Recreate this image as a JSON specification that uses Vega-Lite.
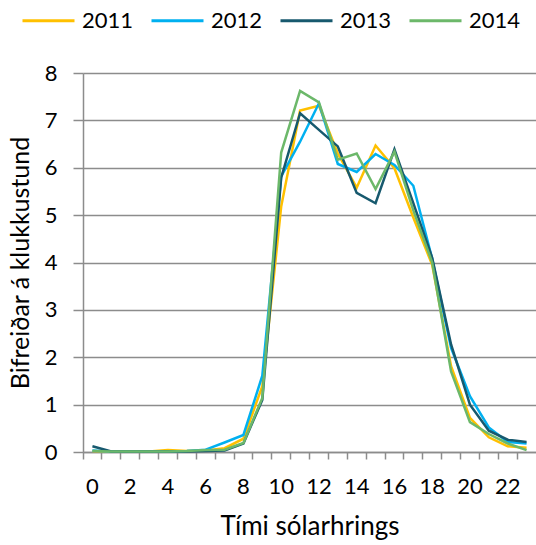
{
  "$schema": "https://vega.github.io/schema/vega-lite/v6.json",
  "width": 453,
  "height": 379,
  "autosize": {"type": "none"},
  "padding": {"left": 83, "top": 73, "right": 0, "bottom": 93},
  "datasets": {
    "d": [
      {"hour":0,"year":"2011","value":0.02},{"hour":1,"year":"2011","value":0.01},{"hour":2,"year":"2011","value":0.01},{"hour":3,"year":"2011","value":0.01},{"hour":4,"year":"2011","value":0.04},{"hour":5,"year":"2011","value":0.02},{"hour":6,"year":"2011","value":0.03},{"hour":7,"year":"2011","value":0.08},{"hour":8,"year":"2011","value":0.28},{"hour":9,"year":"2011","value":1.39},{"hour":10,"year":"2011","value":5.18},{"hour":11,"year":"2011","value":7.21},{"hour":12,"year":"2011","value":7.31},{"hour":13,"year":"2011","value":6.3},{"hour":14,"year":"2011","value":5.58},{"hour":15,"year":"2011","value":6.47},{"hour":16,"year":"2011","value":5.99},{"hour":17,"year":"2011","value":4.95},{"hour":18,"year":"2011","value":3.95},{"hour":19,"year":"2011","value":1.81},{"hour":20,"year":"2011","value":0.72},{"hour":21,"year":"2011","value":0.31},{"hour":22,"year":"2011","value":0.12},{"hour":23,"year":"2011","value":0.09},
      {"hour":0,"year":"2012","value":0.03},{"hour":1,"year":"2012","value":0.01},{"hour":2,"year":"2012","value":0.01},{"hour":3,"year":"2012","value":0.01},{"hour":4,"year":"2012","value":0.01},{"hour":5,"year":"2012","value":0.02},{"hour":6,"year":"2012","value":0.05},{"hour":7,"year":"2012","value":0.2},{"hour":8,"year":"2012","value":0.36},{"hour":9,"year":"2012","value":1.61},{"hour":10,"year":"2012","value":5.82},{"hour":11,"year":"2012","value":6.55},{"hour":12,"year":"2012","value":7.36},{"hour":13,"year":"2012","value":6.08},{"hour":14,"year":"2012","value":5.91},{"hour":15,"year":"2012","value":6.29},{"hour":16,"year":"2012","value":6.06},{"hour":17,"year":"2012","value":5.62},{"hour":18,"year":"2012","value":4.08},{"hour":19,"year":"2012","value":2.2},{"hour":20,"year":"2012","value":1.18},{"hour":21,"year":"2012","value":0.52},{"hour":22,"year":"2012","value":0.21},{"hour":23,"year":"2012","value":0.18},
      {"hour":0,"year":"2013","value":0.12},{"hour":1,"year":"2013","value":0.01},{"hour":2,"year":"2013","value":0.01},{"hour":3,"year":"2013","value":0.01},{"hour":4,"year":"2013","value":0.01},{"hour":5,"year":"2013","value":0.01},{"hour":6,"year":"2013","value":0.02},{"hour":7,"year":"2013","value":0.03},{"hour":8,"year":"2013","value":0.18},{"hour":9,"year":"2013","value":1.1},{"hour":10,"year":"2013","value":5.79},{"hour":11,"year":"2013","value":7.15},{"hour":12,"year":"2013","value":6.8},{"hour":13,"year":"2013","value":6.45},{"hour":14,"year":"2013","value":5.47},{"hour":15,"year":"2013","value":5.25},{"hour":16,"year":"2013","value":6.39},{"hour":17,"year":"2013","value":5.25},{"hour":18,"year":"2013","value":4.1},{"hour":19,"year":"2013","value":2.27},{"hour":20,"year":"2013","value":1.0},{"hour":21,"year":"2013","value":0.45},{"hour":22,"year":"2013","value":0.26},{"hour":23,"year":"2013","value":0.21},
      {"hour":0,"year":"2014","value":0.02},{"hour":1,"year":"2014","value":0.01},{"hour":2,"year":"2014","value":0.01},{"hour":3,"year":"2014","value":0.01},{"hour":4,"year":"2014","value":0.01},{"hour":5,"year":"2014","value":0.02},{"hour":6,"year":"2014","value":0.04},{"hour":7,"year":"2014","value":0.05},{"hour":8,"year":"2014","value":0.19},{"hour":9,"year":"2014","value":1.14},{"hour":10,"year":"2014","value":6.32},{"hour":11,"year":"2014","value":7.62},{"hour":12,"year":"2014","value":7.38},{"hour":13,"year":"2014","value":6.17},{"hour":14,"year":"2014","value":6.3},{"hour":15,"year":"2014","value":5.55},{"hour":16,"year":"2014","value":6.34},{"hour":17,"year":"2014","value":5.1},{"hour":18,"year":"2014","value":4.0},{"hour":19,"year":"2014","value":1.7},{"hour":20,"year":"2014","value":0.63},{"hour":21,"year":"2014","value":0.38},{"hour":22,"year":"2014","value":0.18},{"hour":23,"year":"2014","value":0.04}
    ]
  },
  "data": {"name": "d"},
  "mark": {"type": "line", "strokeWidth": 2.5},
  "encoding": {
    "x": {
      "field": "hour",
      "type": "ordinal",
      "sort": null,
      "scale": {"type": "band", "paddingInner": 0, "paddingOuter": 0},
      "axis": {
        "title": "Tími sólarhrings",
        "bandPosition": 0,
        "labelAngle": 0,
        "labelExpr": "datum.value % 2 == 0 ? datum.label : ''",
        "grid": false,
        "domainColor": "#8c8c8c",
        "domainWidth": 1.5,
        "tickColor": "#8c8c8c",
        "tickWidth": 1.5,
        "tickSize": 7,
        "labelPadding": 17,
        "labelFontSize": 22,
        "labelColor": "#000000",
        "titleFontSize": 26,
        "titleFontWeight": "normal",
        "titleColor": "#000000",
        "titlePadding": 16
      }
    },
    "y": {
      "field": "value",
      "type": "quantitative",
      "scale": {"domain": [0, 8], "nice": false},
      "axis": {
        "title": "Bifreiðar á klukkustund",
        "values": [0,1,2,3,4,5,6,7,8],
        "grid": true,
        "gridColor": "#8c8c8c",
        "gridWidth": 1.5,
        "domainColor": "#8c8c8c",
        "domainWidth": 1.5,
        "tickColor": "#8c8c8c",
        "tickWidth": 1.5,
        "tickSize": 10,
        "labelPadding": 16,
        "labelAlign": "right",
        "labelFontSize": 22,
        "labelColor": "#000000",
        "titleFontSize": 25,
        "titleFontWeight": "normal",
        "titleColor": "#000000",
        "titleX": -63,
        "titleBaseline": "middle"
      }
    },
    "color": {
      "field": "year",
      "type": "nominal",
      "scale": {"domain": ["2011","2012","2013","2014"], "range": ["#FFC000","#00B0F0","#17596E","#6CB86A"]},
      "legend": {
        "title": null,
        "orient": "none",
        "direction": "horizontal",
        "legendX": -62,
        "legendY": -80,
        "padding": 0,
        "symbolType": "stroke",
        "symbolSize": 2704,
        "symbolStrokeWidth": 3,
        "labelFontSize": 22,
        "labelColor": "#000000",
        "labelOffset": 6,
        "columnPadding": 11
      }
    }
  },
  "config": {
    "view": {"stroke": null},
    "font": "Lato"
  }
}
